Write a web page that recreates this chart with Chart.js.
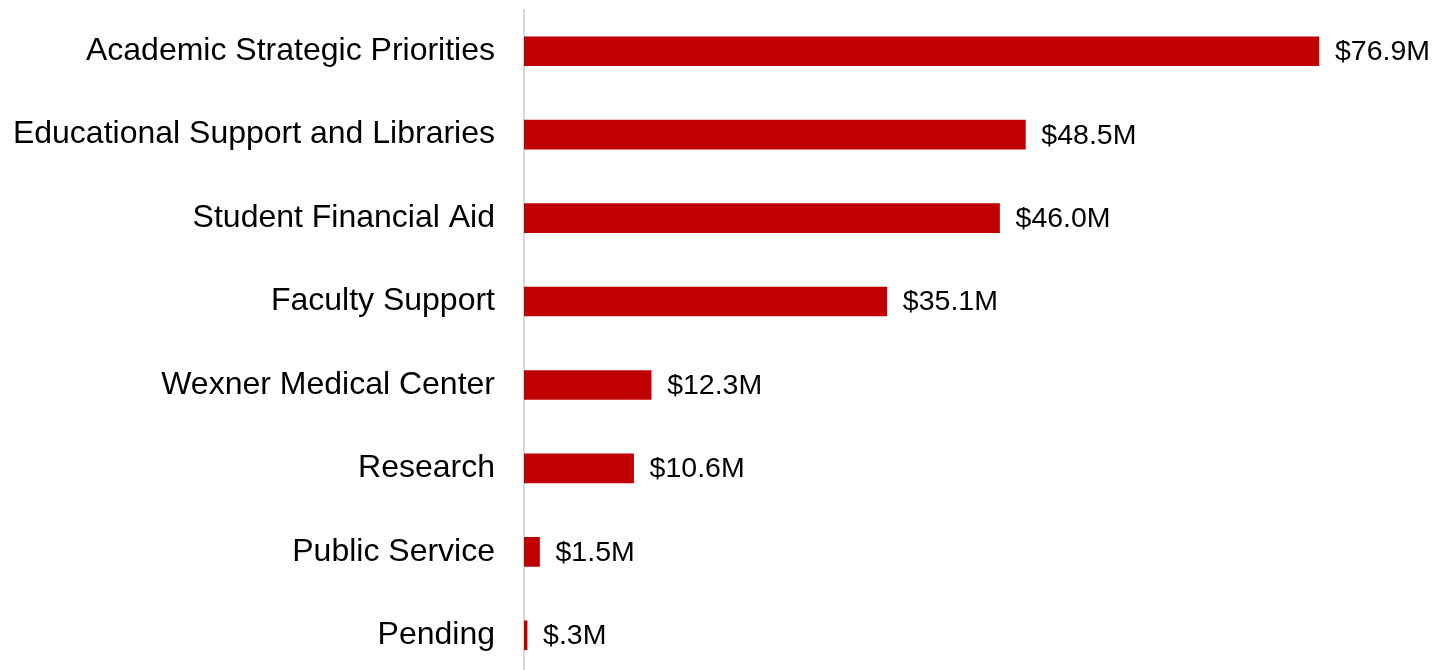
<!DOCTYPE html>
<html>
<head>
<meta charset="utf-8">
<script src="https://cdn.jsdelivr.net/npm/chart.js@4/dist/chart.umd.min.js"></script>
<style>
  html, body { margin: 0; padding: 0; background: #ffffff; overflow: hidden; }
  #wrap { position: relative; width: 1438px; height: 677px; }
</style>
</head>
<body>
<div id="wrap"><canvas id="chart"></canvas></div>
<script>
// Spending by area, in millions of dollars
const categories = [
  'Academic Strategic Priorities',
  'Educational Support and Libraries',
  'Student Financial Aid',
  'Faculty Support',
  'Wexner Medical Center',
  'Research',
  'Public Service',
  'Pending'
];
const amounts = [76.9, 48.5, 46.0, 35.1, 12.3, 10.6, 1.5, 0.3];
const axisMax = 80;

// "$76.9M", "$.3M"
function formatAmount(v) {
  return '$' + v.toFixed(1).replace(/^0\./, '.') + 'M';
}

const FONT = '"Liberation Sans", Arial, Helvetica, sans-serif';

// Writes the formatted amount just past the end of each bar
const valueLabels = {
  id: 'valueLabels',
  afterDatasetsDraw(chart) {
    const ctx = chart.ctx;
    const meta = chart.getDatasetMeta(0);
    ctx.save();
    ctx.font = '28.5px ' + FONT;
    ctx.fillStyle = '#000000';
    ctx.textAlign = 'left';
    ctx.textBaseline = 'middle';
    meta.data.forEach((bar, i) => {
      ctx.fillText(formatAmount(amounts[i]), bar.x + 16, bar.y + 1);
    });
    ctx.restore();
  }
};

new Chart(document.getElementById('chart'), {
  type: 'bar',
  data: {
    labels: categories,
    datasets: [{
      data: amounts,
      backgroundColor: '#C00000',
      borderWidth: 0,
      barThickness: 29
    }]
  },
  options: {
    indexAxis: 'y',
    responsive: true,
    maintainAspectRatio: false,
    animation: false,
    layout: { padding: { top: 9.5, right: 87, bottom: 0, left: 0 } },
    plugins: {
      legend: { display: false },
      tooltip: { enabled: false }
    },
    scales: {
      x: {
        display: false,
        min: 0,
        max: axisMax
      },
      y: {
        afterFit: (scale) => {
          // fixed label column; no extra room above/below for label overhang
          scale.width = 524;
          scale.paddingTop = 0;
          scale.paddingBottom = 0;
        },
        grid: { display: false, drawTicks: false },
        border: { display: true, color: '#d9d9d9', width: 2 },
        ticks: {
          color: '#000000',
          padding: 29,
          font: { family: FONT, size: 32 }
        }
      }
    }
  },
  plugins: [valueLabels]
});
</script>
</body>
</html>
